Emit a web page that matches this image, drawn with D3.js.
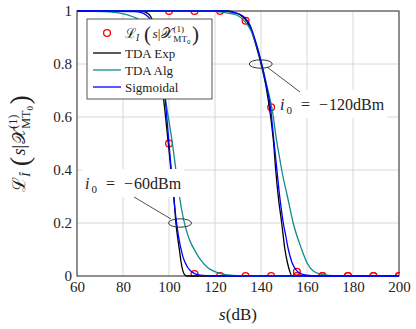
<!DOCTYPE html>
<html><head><meta charset="utf-8">
<script src="https://cdn.jsdelivr.net/npm/d3@7"></script>
<style>
html,body{margin:0;padding:0;background:#fff;}
text{font-family:"Liberation Serif","DejaVu Serif",serif;fill:#222;}
</style></head>
<body><svg id="c" width="416" height="329"></svg>
<script>
// ---------- data ----------
const xTicks = [60, 80, 100, 120, 140, 160, 180, 200];
const yTicks = [0, 0.2, 0.4, 0.6, 0.8, 1];

// i0 = -60 dBm group
const sExpA = [60, 88, 91, 93, 95, 97, 98.5, 99.7, 101, 102.2, 103, 104, 104.5, 105.3, 106, 107, 108, 200];
const lExpA = [1, 1, 0.99, 0.96, 0.88, 0.72, 0.6, 0.5, 0.39, 0.29, 0.2, 0.13, 0.1, 0.05, 0.02, 0.003, 0, 0];
const sAlgA = [60, 72, 78, 82, 86, 90, 94, 97, 99.5, 101.5, 103, 104.4, 105.5, 107, 109, 111.3, 114, 117, 119, 123, 128, 135, 200];
const lAlgA = [1, 0.998, 0.993, 0.985, 0.972, 0.94, 0.86, 0.75, 0.61, 0.5, 0.4, 0.31, 0.25, 0.19, 0.135, 0.095, 0.058, 0.03, 0.02, 0.008, 0.002, 0, 0];
const sSigA = [60, 85, 88, 90, 92, 94, 96, 98, 100, 102, 104, 106, 108, 110, 113, 117, 120, 200];
const lSigA = [1, 0.998, 0.994, 0.985, 0.966, 0.926, 0.843, 0.7, 0.5, 0.3, 0.157, 0.074, 0.034, 0.015, 0.004, 0.001, 0, 0];

// i0 = -120 dBm group
const sExpB = [60, 125, 128, 131, 133, 135.2, 137.5, 140.3, 142.3, 144.2, 145.5, 146.4, 147.5, 149, 150.4, 151.5, 152.6, 153.5, 200];
const lExpB = [1, 1, 0.996, 0.985, 0.97, 0.94, 0.88, 0.79, 0.71, 0.6, 0.5, 0.4, 0.3, 0.2, 0.1, 0.05, 0.015, 0, 0];
const sAlgB = [60, 118, 121, 125, 129.4, 133, 136, 138.5, 140.3, 142.5, 145, 146.8, 148, 149, 151.5, 154, 157.7, 160, 162.6, 166, 170, 175, 200];
const lAlgB = [1, 1, 0.998, 0.993, 0.985, 0.96, 0.92, 0.86, 0.8, 0.72, 0.62, 0.51, 0.45, 0.4, 0.3, 0.2, 0.1, 0.05, 0.02, 0.007, 0.002, 0, 0];
const sSigB = [60, 124, 127, 130, 133, 135.2, 137.5, 140.3, 142.3, 144.2, 145.5, 146.8, 148, 149.7, 150.8, 151.9, 153.5, 155.5, 158, 162, 166, 200];
const lSigB = [1, 1, 0.997, 0.99, 0.975, 0.947, 0.89, 0.8, 0.72, 0.63, 0.52, 0.41, 0.31, 0.2, 0.15, 0.1, 0.05, 0.02, 0.006, 0.001, 0, 0];

// simulated points (markers)
const sMark = [100, 111.1, 122.2, 133.3, 144.4, 155.6, 166.7, 177.8, 188.9, 200];
const lMarkA = [0.5, 0.0075, 0, 0, 0, 0, 0, 0, 0, 0];
const lMarkB = [1, 1, 1, 0.963, 0.637, 0.016, 0, 0, 0, 0];

const legendNames = ["TDA Exp", "TDA Alg", "Sigmoidal"];
const colors = {exp: "#000000", alg: "#138a8a", sig: "#0000ff", mark: "#ff0000"};
const SERIF = "Liberation Serif, DejaVu Serif, serif";

// ---------- layout ----------
const svg = d3.select("#c");
const L = 77, R = 399, T = 11, B = 276;
const x = d3.scaleLinear().domain([60, 200]).range([L, R]);
const y = d3.scaleLinear().domain([0, 1]).range([B, T]);

svg.append("defs").append("clipPath").attr("id", "clip")
  .append("rect").attr("x", L - 1).attr("y", T - 1).attr("width", R - L + 2).attr("height", B - T + 2);

// grid
const grid = svg.append("g");
grid.selectAll("line.gx").data(xTicks).join("line")
  .attr("x1", d => x(d)).attr("x2", d => x(d)).attr("y1", T).attr("y2", B)
  .attr("stroke", "#d4d4d4").attr("stroke-width", 0.9);
grid.selectAll("line.gy").data(yTicks).join("line")
  .attr("y1", d => y(d)).attr("y2", d => y(d)).attr("x1", L).attr("x2", R)
  .attr("stroke", "#d4d4d4").attr("stroke-width", 0.9);

// axes labels
const ax = svg.append("g").attr("transform", `translate(0,${B})`)
  .call(d3.axisBottom(x).tickValues(xTicks).tickSize(0).tickPadding(5).tickFormat(d3.format("d")));
ax.attr("font-family", null);
ax.select(".domain").remove();
ax.selectAll("text").style("font-size", "15px").style("font-family", SERIF).attr("fill", "#222");
const ay = svg.append("g").attr("transform", `translate(${L},0)`)
  .call(d3.axisLeft(y).tickValues(yTicks).tickSize(0).tickPadding(5).tickFormat(d3.format("~g")));
ay.attr("font-family", null);
ay.select(".domain").remove();
ay.selectAll("text").style("font-size", "15px").style("font-family", SERIF).attr("fill", "#222");

// frame
svg.append("rect").attr("x", L).attr("y", T).attr("width", R - L).attr("height", B - T)
  .attr("fill", "none").attr("stroke", "#333").attr("stroke-width", 1);

// plot content
const plot = svg.append("g").attr("clip-path", "url(#clip)");
const line = d3.line().x(d => x(d[0])).y(d => y(d[1])).curve(d3.curveMonotoneX);
const zip = (a, b) => a.map((v, i) => [v, b[i]]);

// markers
[lMarkA, lMarkB].forEach(arr => {
  plot.append("g").selectAll("circle").data(zip(sMark, arr)).join("circle")
    .attr("cx", d => x(d[0])).attr("cy", d => y(d[1])).attr("r", 3.4)
    .attr("fill", "none").attr("stroke", colors.mark).attr("stroke-width", 1.3);
});

const curves = [
  [sExpA, lExpA, colors.exp], [sExpB, lExpB, colors.exp],
  [sAlgA, lAlgA, colors.alg], [sAlgB, lAlgB, colors.alg],
  [sSigA, lSigA, colors.sig], [sSigB, lSigB, colors.sig]
];
curves.forEach(([s, l, c]) => {
  plot.append("path").datum(zip(s, l)).attr("d", line)
    .attr("fill", "none").attr("stroke", c).attr("stroke-width", 1.3);
});

// ---------- math text helper ----------
function mathText(parent, pieces) {
  const g = parent.append("g");
  let cx = 0;
  const add = (p, xx) => {
    const t = g.append("text").attr("x", xx).attr("y", p.dy || 0)
      .style("font-size", (p.size || 14) + "px")
      .style("font-style", p.it ? "italic" : "normal")
      .style("font-family", p.fam || SERIF)
      .text(p.t);
    return t.node().getComputedTextLength();
  };
  pieces.forEach(p => {
    if (p.sup) {
      const w1 = add(p.sup, cx);
      let xs = cx;
      p.sub.forEach(q => { xs += add(q, xs); });
      cx = Math.max(cx + w1, xs) + (p.sp || 0);
    } else {
      cx += add(p, cx) + (p.sp || 0);
    }
  });
  return {g, width: cx};
}

function condPieces(base, big, subI) {
  return [
    {t: "ℒ", size: base, fam: "DejaVu Serif", it: false},
    {t: subI, size: base * 0.7, dy: base * 0.25, it: true, sp: base * 0.35},
    {t: "(", size: big, dy: base * 0.2, sp: 1.5},
    {t: "s", size: base, it: true},
    {t: "|", size: base, sp: 0.5},
    {t: "𝒳", size: base, fam: "DejaVu Serif, Noto Sans", sp: 0.5},
    {sup: {t: "(1)", size: base * 0.68, dy: -base * 0.42},
     sub: [{t: "MT", size: base * 0.68, dy: base * 0.3}, {t: "0", size: base * 0.5, dy: base * 0.42}], sp: 1.5},
    {t: ")", size: big, dy: base * 0.2}
  ];
}

// ---------- y label ----------
{
  const m = mathText(svg, condPieces(18, 28, "Î"));
  m.g.attr("transform", `translate(25,${(T + B) / 2}) rotate(-90) translate(${-m.width / 2},0)`);
}
// ---------- x label ----------
{
  const m = mathText(svg, [{t: "s", size: 17, it: true}, {t: "(dB)", size: 17}]);
  m.g.attr("transform", `translate(${(L + R) / 2 - m.width / 2},320)`);
}

// ---------- annotations ----------
function annot(cxv, cyv, lx1, ly1, lx2, ly2, tx, ty, label) {
  const bg = svg.append("rect").attr("fill", "#fff");
  const m = mathText(svg, [
    {t: "i", size: 16, it: true, sp: 2},
    {t: "0", size: 11, dy: 3.5, sp: 9},
    {t: "=", size: 16, sp: 9},
    {t: "−", size: 16, sp: 1},
    {t: label, size: 16}
  ]);
  m.g.attr("transform", `translate(${tx},${ty})`);
  bg.attr("x", tx - 3).attr("y", ty - 20).attr("width", m.width + 6).attr("height", 28);
  svg.append("ellipse").attr("cx", x(cxv)).attr("cy", y(cyv)).attr("rx", 11.5).attr("ry", 4.2)
    .attr("fill", "none").attr("stroke", "#222").attr("stroke-width", 0.9);
  svg.append("line").attr("x1", lx1).attr("y1", ly1).attr("x2", lx2).attr("y2", ly2)
    .attr("stroke", "#222").attr("stroke-width", 0.8);
}
annot(104.8, 0.2, 171, 219, 134, 197, 85, 189, "60dBm");
annot(139.9, 0.8, 267, 67, 300, 92, 280, 110, "120dBm");

// ---------- legend ----------
const lg = svg.append("g");
lg.append("rect").attr("x", 87).attr("y", 19).attr("width", 125).attr("height", 80)
  .attr("fill", "#fff").attr("stroke", "#444").attr("stroke-width", 0.9);
lg.append("circle").attr("cx", 107).attr("cy", 33).attr("r", 3.4)
  .attr("fill", "none").attr("stroke", colors.mark).attr("stroke-width", 1.3);
{
  const m = mathText(lg, condPieces(13.5, 21, "I"));
  m.g.attr("transform", "translate(125,38)");
}
[colors.exp, colors.alg, colors.sig].forEach((c, i) => {
  const yy = 53 + i * 17;
  lg.append("line").attr("x1", 93).attr("x2", 121).attr("y1", yy).attr("y2", yy)
    .attr("stroke", c).attr("stroke-width", 1.3);
  lg.append("text").attr("x", 125).attr("y", yy + 4.5)
    .style("font-size", "13px").style("font-family", SERIF).text(legendNames[i]);
});
</script>
</body></html>
